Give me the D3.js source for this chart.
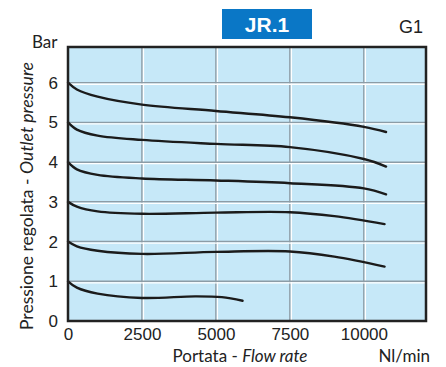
<!DOCTYPE html>
<html>
<head>
<meta charset="utf-8">
<script src="https://cdn.jsdelivr.net/npm/d3@7"></script>
<style>
  body { margin: 0; background: #fff; }
  svg { display: block; }
</style>
</head>
<body>
<div id="chart"></div>
<script>
// axis ticks
const flowTicks = [0, 2500, 5000, 7500, 10000];
const pressureTicks = [0, 1, 2, 3, 4, 5, 6];

// curves: [flow Nl/min, outlet pressure bar]
const curve6 = [[0, 6.0], [300, 5.83], [1000, 5.65], [2500, 5.45], [5000, 5.29], [7500, 5.13], [10000, 4.89], [10750, 4.76]];
const curve5 = [[0, 5.0], [300, 4.82], [1000, 4.67], [2500, 4.56], [5000, 4.46], [7500, 4.38], [10000, 4.08], [10750, 3.89]];
const curve4 = [[0, 4.0], [300, 3.82], [1000, 3.68], [2500, 3.59], [5000, 3.54], [7500, 3.47], [10000, 3.34], [10750, 3.19]];
const curve3 = [[0, 3.0], [300, 2.88], [1000, 2.76], [2500, 2.7], [5000, 2.73], [7500, 2.74], [9000, 2.64], [10700, 2.44]];
const curve2 = [[0, 2.0], [300, 1.88], [1000, 1.77], [2500, 1.69], [5000, 1.74], [7500, 1.75], [9000, 1.62], [10700, 1.37]];
const curve1 = [[0, 1.0], [300, 0.84], [1000, 0.69], [2500, 0.58], [4300, 0.62], [5200, 0.6], [5900, 0.51]];

const W = 446, H = 367;
const svg = d3.select("#chart").append("svg").attr("width", W).attr("height", H);

const x = d3.scaleLinear().domain([0, 12100]).range([68, 426]);
const y = d3.scaleLinear().domain([0, 6.9]).range([321, 47]);

// plot background
svg.append("rect")
    .attr("x", x(0)).attr("y", y(6.9))
    .attr("width", x(12100) - x(0)).attr("height", y(0) - y(6.9))
    .attr("fill", "#c6e8f8");

// grid: grey line with a white line next to it
const grid = svg.append("g");
flowTicks.slice(1).forEach(v => {
    grid.append("line").attr("x1", x(v)).attr("x2", x(v)).attr("y1", y(6.9)).attr("y2", y(0))
        .attr("stroke", "#8c9ca6").attr("stroke-width", 1.5);
    grid.append("line").attr("x1", x(v) + 1.5).attr("x2", x(v) + 1.5).attr("y1", y(6.9)).attr("y2", y(0))
        .attr("stroke", "#ffffff").attr("stroke-width", 1.3);
});
pressureTicks.slice(1).forEach(v => {
    grid.append("line").attr("x1", x(0)).attr("x2", x(12100)).attr("y1", y(v)).attr("y2", y(v))
        .attr("stroke", "#8c9ca6").attr("stroke-width", 1.5);
    grid.append("line").attr("x1", x(0)).attr("x2", x(12100)).attr("y1", y(v) + 1.5).attr("y2", y(v) + 1.5)
        .attr("stroke", "#ffffff").attr("stroke-width", 1.3);
});

// curves
const line = d3.line()
    .curve(d3.curveCatmullRom.alpha(0.5))
    .x(d => x(d[0]))
    .y(d => y(d[1]));

[curve6, curve5, curve4, curve3, curve2, curve1].forEach(c => {
    svg.append("path")
        .attr("d", line(c))
        .attr("fill", "none")
        .attr("stroke", "#1b1b1b")
        .attr("stroke-width", 2.4)
        .attr("stroke-linecap", "round");
});

// frame
svg.append("rect")
    .attr("x", x(0)).attr("y", y(6.9))
    .attr("width", x(12100) - x(0)).attr("height", y(0) - y(6.9))
    .attr("fill", "none").attr("stroke", "#222").attr("stroke-width", 2.5);

// axes (labels only)
const xAxis = svg.append("g")
    .attr("transform", `translate(0,${y(0)})`)
    .call(d3.axisBottom(x).tickValues(flowTicks).tickSize(0).tickPadding(7).tickFormat(d3.format("d")));
xAxis.select(".domain").remove();
xAxis.selectAll("text").attr("font-family", "Liberation Sans, Arial, sans-serif").attr("font-size", 17).attr("fill", "#222");

const yAxis = svg.append("g")
    .attr("transform", `translate(${x(0)},0)`)
    .call(d3.axisLeft(y).tickValues(pressureTicks).tickSize(0).tickPadding(10).tickFormat(d3.format("d")));
yAxis.select(".domain").remove();
yAxis.selectAll("text").attr("font-family", "Liberation Sans, Arial, sans-serif").attr("font-size", 17).attr("fill", "#222");

// texts
const gill = "Lato, 'Open Sans', sans-serif";
svg.append("text").attr("x", 32).attr("y", 48).attr("font-family", gill).attr("font-size", 17).attr("fill", "#222").text("Bar");

svg.append("text").attr("x", 423).attr("y", 33).attr("text-anchor", "end")
    .attr("font-family", "Liberation Sans, Arial, sans-serif").attr("font-size", 18).attr("fill", "#222").text("G1");

svg.append("rect").attr("x", 222).attr("y", 9).attr("width", 90).attr("height", 30).attr("fill", "#0a77c6");
svg.append("text").attr("x", 267).attr("y", 32).attr("text-anchor", "middle")
    .attr("font-family", "Liberation Sans, Arial, sans-serif").attr("font-weight", "bold")
    .attr("font-size", 21).attr("fill", "#fff").text("JR.1");

const xl = svg.append("text").attr("x", 240).attr("y", 362).attr("text-anchor", "middle")
    .attr("font-family", gill).attr("font-size", 17).attr("fill", "#222");
xl.append("tspan").text("Portata - ");
xl.append("tspan").attr("font-style", "italic").text("Flow rate");

svg.append("text").attr("x", 430).attr("y", 362).attr("text-anchor", "end")
    .attr("font-family", gill).attr("font-size", 17).attr("fill", "#222").text("Nl/min");

const yl = svg.append("text")
    .attr("transform", "translate(33,196) rotate(-90)")
    .attr("text-anchor", "middle")
    .attr("font-family", gill).attr("font-size", 16.5).attr("fill", "#222")
    .attr("textLength", 268).attr("lengthAdjust", "spacingAndGlyphs");
yl.append("tspan").text("Pressione regolata - ");
yl.append("tspan").attr("font-style", "italic").text("Outlet pressure");
</script>
</body>
</html>
